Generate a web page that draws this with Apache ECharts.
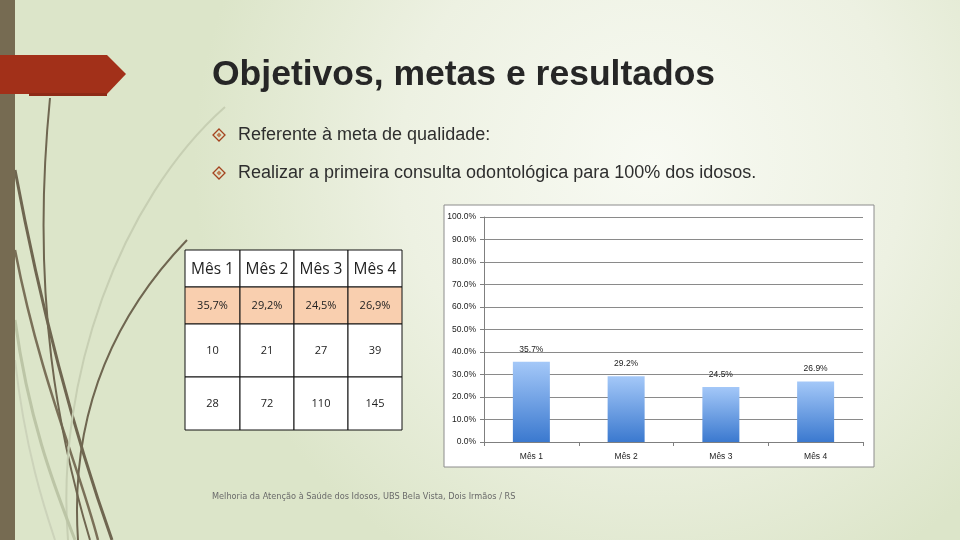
<!DOCTYPE html>
<html><head><meta charset="utf-8">
<script src="https://cdn.jsdelivr.net/npm/echarts@6/dist/echarts.min.js"></script>
<style>html,body{margin:0;padding:0;}#c{width:960px;height:540px;}</style>
</head><body><div id="c"></div>
<script>
// ---- data ----
const categories = ['Mês 1', 'Mês 2', 'Mês 3', 'Mês 4'];
const values = [35.7, 29.2, 24.5, 26.9];
const yTicks = [0, 10, 20, 30, 40, 50, 60, 70, 80, 90, 100];
const tableHeader = ['Mês 1', 'Mês 2', 'Mês 3', 'Mês 4'];
const tablePct = ['35,7%', '29,2%', '24,5%', '26,9%'];
const tableRow3 = ['10', '21', '27', '39'];
const tableRow4 = ['28', '72', '110', '145'];
const titleText = 'Objetivos, metas e resultados';
const bullets = ['Referente à meta de qualidade:', 'Realizar a primeira consulta odontológica para 100% dos idosos.'];
const footerText = 'Melhoria da Atenção à Saúde dos Idosos, UBS Bela Vista, Dois Irmãos / RS';

const chart = echarts.init(document.getElementById('c'), null, {renderer: 'canvas'});

function txt(x, y, s, font, fill, align, valign, z) {
  return {type: 'text', z: z || 5, style: {x: x, y: y, text: s, font: font, fill: fill,
    textAlign: align || 'left', textVerticalAlign: valign || 'middle', align: align || 'left', verticalAlign: valign || 'middle'}};
}

const g = [];
// background
g.push({type: 'rect', z: -10, shape: {x: 0, y: 0, width: 960, height: 540},
  style: {fill: new echarts.graphic.RadialGradient(0.68, 0.3, 0.85, [
    {offset: 0, color: '#F8FAF3'}, {offset: 0.55, color: '#EDF1E2'}, {offset: 1, color: '#DCE5C9'}])}});
// decorative curves
const curves = [
  {p: [[15,170],[45,330],[80,450],[112,540]], c: '#6F6650', w: 3},
  {p: [[15,250],[40,380],[80,470],[98,540]], c: '#7A7058', w: 2.5},
  {p: [[50,98],[30,300],[60,440],[90,540]], c: '#6F6650', w: 2},
  {p: [[187,240],[110,320],[70,420],[78,540]], c: '#6F6650', w: 2},
  {p: [[225,107],[120,200],[55,380],[68,540]], c: '#C7CFB3', w: 2},
  {p: [[15,320],[30,430],[60,500],[75,540]], c: '#BCC5A6', w: 3},
  {p: [[15,360],[25,450],[45,510],[55,540]], c: '#CCD3BA', w: 2}
];
curves.forEach(function (cv) {
  g.push({type: 'bezierCurve', z: -5, shape: {x1: cv.p[0][0], y1: cv.p[0][1], cpx1: cv.p[1][0], cpy1: cv.p[1][1],
    cpx2: cv.p[2][0], cpy2: cv.p[2][1], x2: cv.p[3][0], y2: cv.p[3][1]}, style: {stroke: cv.c, lineWidth: cv.w, fill: null}});
});
// left vertical bar
g.push({type: 'rect', z: -4, shape: {x: 0, y: 0, width: 15, height: 540}, style: {fill: '#766B52'}});
// red arrow
g.push({type: 'polygon', z: -3, shape: {points: [[0,55],[107,55],[126,74],[107,94],[0,94]]}, style: {fill: '#A23019'}});
g.push({type: 'rect', z: -3, shape: {x: 29, y: 93, width: 78, height: 3}, style: {fill: '#8E2A16'}});
// title
g.push(txt(212, 75, titleText, 'bold 35.5px "Liberation Sans", Arial, sans-serif', '#262626'));
// bullets
[135, 173].forEach(function (yy, i) {
  g.push({type: 'polygon', z: 5, shape: {points: [[219, yy-6],[225, yy],[219, yy+6],[213, yy]]},
    style: {fill: 'none', stroke: '#A4431E', lineWidth: 1.3}});
  g.push({type: 'polygon', z: 5, shape: {points: [[219, yy-2.5],[221.5, yy],[219, yy+2.5],[216.5, yy]]},
    style: {fill: '#C07A50', stroke: null}});
  g.push(txt(238, yy, bullets[i], '18px "Liberation Sans", Arial, sans-serif', '#2E2E2E'));
});
// table
const colX = [185, 240, 294, 348, 402];
const rowY = [250, 287, 324, 377, 430];
const rows = [tableHeader, tablePct, tableRow3, tableRow4];
for (let r = 0; r < 4; r++) {
  for (let c = 0; c < 4; c++) {
    g.push({type: 'rect', z: 2, shape: {x: colX[c], y: rowY[r], width: colX[c+1]-colX[c], height: rowY[r+1]-rowY[r]},
      style: {fill: r === 1 ? '#F9CFAF' : '#FFFFFF', stroke: '#111', lineWidth: 1}});
    const font = r === 0 ? '15.5px "Open Sans", "Liberation Sans", sans-serif' : '11px "Open Sans", "Liberation Sans", sans-serif';
    g.push(txt((colX[c]+colX[c+1])/2, (rowY[r]+rowY[r+1])/2 + (r===0?1:0), rows[r][c], font, '#222', 'center', 'middle', 3));
  }
}
// chart panel
g.push({type: 'rect', z: 0, shape: {x: 444, y: 205, width: 430, height: 262}, style: {fill: '#FFFFFF', stroke: '#8C8C8C', lineWidth: 1}});
// footer
g.push(txt(212, 497, footerText, '8.2px "DejaVu Sans", sans-serif', '#6A6A6A'));

chart.setOption({
  animation: false,
  graphic: g,
  grid: {left: 484, right: 97, top: 217, bottom: 98, containLabel: false},
  xAxis: {
    type: 'category', data: categories, boundaryGap: true, z: 10,
    axisLine: {lineStyle: {color: '#7F7F7F', width: 1}},
    axisTick: {show: true, alignWithLabel: false, length: 4, lineStyle: {color: '#7F7F7F'}},
    axisLabel: {color: '#222', fontSize: 8.5, fontFamily: '"Liberation Sans", Arial', margin: 10}
  },
  yAxis: {
    type: 'value', min: 0, max: 100, interval: 10, z: 10,
    axisLine: {show: true, lineStyle: {color: '#7F7F7F'}},
    axisTick: {show: true, length: 4, lineStyle: {color: '#7F7F7F'}},
    splitLine: {lineStyle: {color: '#8A8A8A', width: 1}},
    axisLabel: {color: '#222', fontSize: 8.5, fontFamily: '"Liberation Sans", Arial', margin: 8,
      formatter: function (v) { return v.toFixed(1) + '%'; }}
  },
  series: [{
    type: 'bar', data: values, barWidth: 37, z: 11,
    itemStyle: {color: new echarts.graphic.LinearGradient(0, 0, 0, 1, [
      {offset: 0, color: '#A4C8F8'}, {offset: 1, color: '#3B79CF'}])},
    label: {show: true, position: 'top', distance: 8, color: '#222', fontSize: 8.5,
      fontFamily: '"Liberation Sans", Arial', formatter: function (p) { return p.value.toFixed(1) + '%'; }}
  }]
});
</script></body></html>
